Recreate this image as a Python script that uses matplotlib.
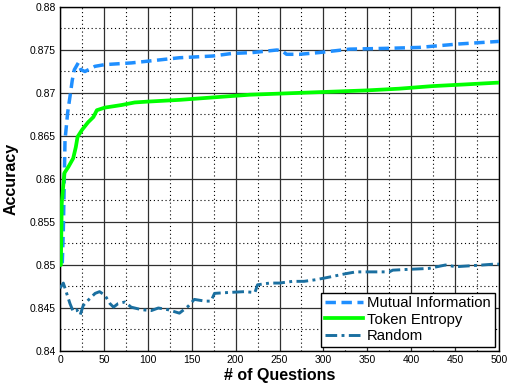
import matplotlib
matplotlib.use("Agg")
import matplotlib.pyplot as plt
from matplotlib.ticker import MultipleLocator, FormatStrFormatter

# Mutual Information
mi_x = [2.6, 3.8, 4.9, 5.7, 8.7, 11.4, 14, 16.3, 20.8, 23.9, 28.4, 39.8, 51, 81.5, 100,
        136, 174, 196, 219, 247, 253, 258, 273, 295, 330, 375, 409, 454, 500]
mi_y = [0.8502, 0.8541, 0.8599, 0.8645, 0.8677, 0.8696, 0.8715, 0.8727, 0.8735, 0.8727,
        0.8725, 0.8731, 0.8733, 0.8735, 0.8737, 0.8741, 0.8743, 0.8746, 0.8747, 0.8750,
        0.8749, 0.8745, 0.8745, 0.8747, 0.8751, 0.8752, 0.8753, 0.8757, 0.8760]

# Token Entropy
te_x = [0, 1, 2, 5, 9.5, 15, 18, 20, 25, 32, 38, 42, 51, 70, 85, 100, 136, 216, 295,
        349, 386, 424, 462, 498, 500]
te_y = [0.8500, 0.8500, 0.8572, 0.8607, 0.8614, 0.8624, 0.8637, 0.8649, 0.8657, 0.8666,
        0.8672, 0.8680, 0.8683, 0.8686, 0.8689, 0.8690, 0.8692, 0.8698, 0.8701,
        0.8703, 0.8705, 0.8708, 0.8710, 0.8712, 0.8712]

# Random
rd_x = [0, 3.8, 7.6, 11.4, 15, 19, 23, 26.5, 32, 40, 45, 51, 57, 61, 66, 74, 81, 93, 104,
        112, 123, 136, 146, 153, 165, 172, 176, 191, 210, 222, 225, 239, 250, 265, 278,
        292, 307, 326, 337, 360, 375, 379, 398, 420, 439, 451, 466, 481, 494, 500]
rd_y = [0.8473, 0.8479, 0.8467, 0.8455, 0.8446, 0.8448, 0.8442, 0.8453, 0.8459, 0.8467,
        0.8469, 0.8465, 0.8455, 0.8451, 0.8455, 0.8457, 0.8451, 0.8448, 0.8447, 0.8450,
        0.8448, 0.8444, 0.8452, 0.8460, 0.8458, 0.8458, 0.8467, 0.8468, 0.8469, 0.8468,
        0.8477, 0.8479, 0.8479, 0.8481, 0.8481, 0.8483, 0.8486, 0.8490, 0.8492, 0.8492,
        0.8492, 0.8494, 0.8495, 0.8496, 0.8500, 0.8498, 0.8499, 0.8500, 0.8501, 0.8501]

labels = ["Mutual Information", "Token Entropy", "Random"]

plt.rcParams['font.family'] = ['Liberation Sans', 'DejaVu Sans']

fig = plt.figure(figsize=(5.08, 3.87), dpi=100)
ax = fig.add_axes([60/508, 1 - 351/387, 439/508, 344/387])

ax.plot(mi_x, mi_y, color='#1f8fff', lw=2.5, ls=(0, (3, 1.6)), label=labels[0], zorder=3)
ax.plot(te_x, te_y, color='#00ff00', lw=2.7, ls='-', label=labels[1], zorder=3)
ax.plot(rd_x, rd_y, color='#1a6fa0', lw=2.1, ls=(0, (4, 1.5, 1, 1.5)), label=labels[2], zorder=3)

ax.set_xlim(0, 500)
ax.set_ylim(0.84, 0.88)
ax.xaxis.set_major_locator(MultipleLocator(50))
ax.xaxis.set_minor_locator(MultipleLocator(25))
ax.yaxis.set_major_locator(MultipleLocator(0.005))
ax.yaxis.set_minor_locator(MultipleLocator(0.0025))
ax.yaxis.set_major_formatter(FormatStrFormatter('%g'))

ax.grid(which='major', color='#303030', lw=0.9, ls='-')
ax.grid(which='minor', color='#000000', lw=0.8, ls=(0, (1, 2.5)))
ax.set_axisbelow(True)

ax.tick_params(which='both', direction='in', length=0, labelsize=7.5, pad=3)
for s in ax.spines.values():
    s.set_color('black')
    s.set_linewidth(1.0)

ax.set_xlabel('# of Questions', fontsize=11.5, fontweight='bold', labelpad=2)
ax.set_ylabel('Accuracy', fontsize=11.5, fontweight='bold', labelpad=8)

leg = ax.legend(loc='lower right', fontsize=10.7, frameon=True, fancybox=False,
                edgecolor='black', framealpha=1, borderaxespad=0.3,
                handlelength=2.6, handletextpad=0.25, labelspacing=0.15,
                borderpad=0.25)
leg.get_frame().set_linewidth(1.0)

fig.savefig('out.png', dpi=100)
